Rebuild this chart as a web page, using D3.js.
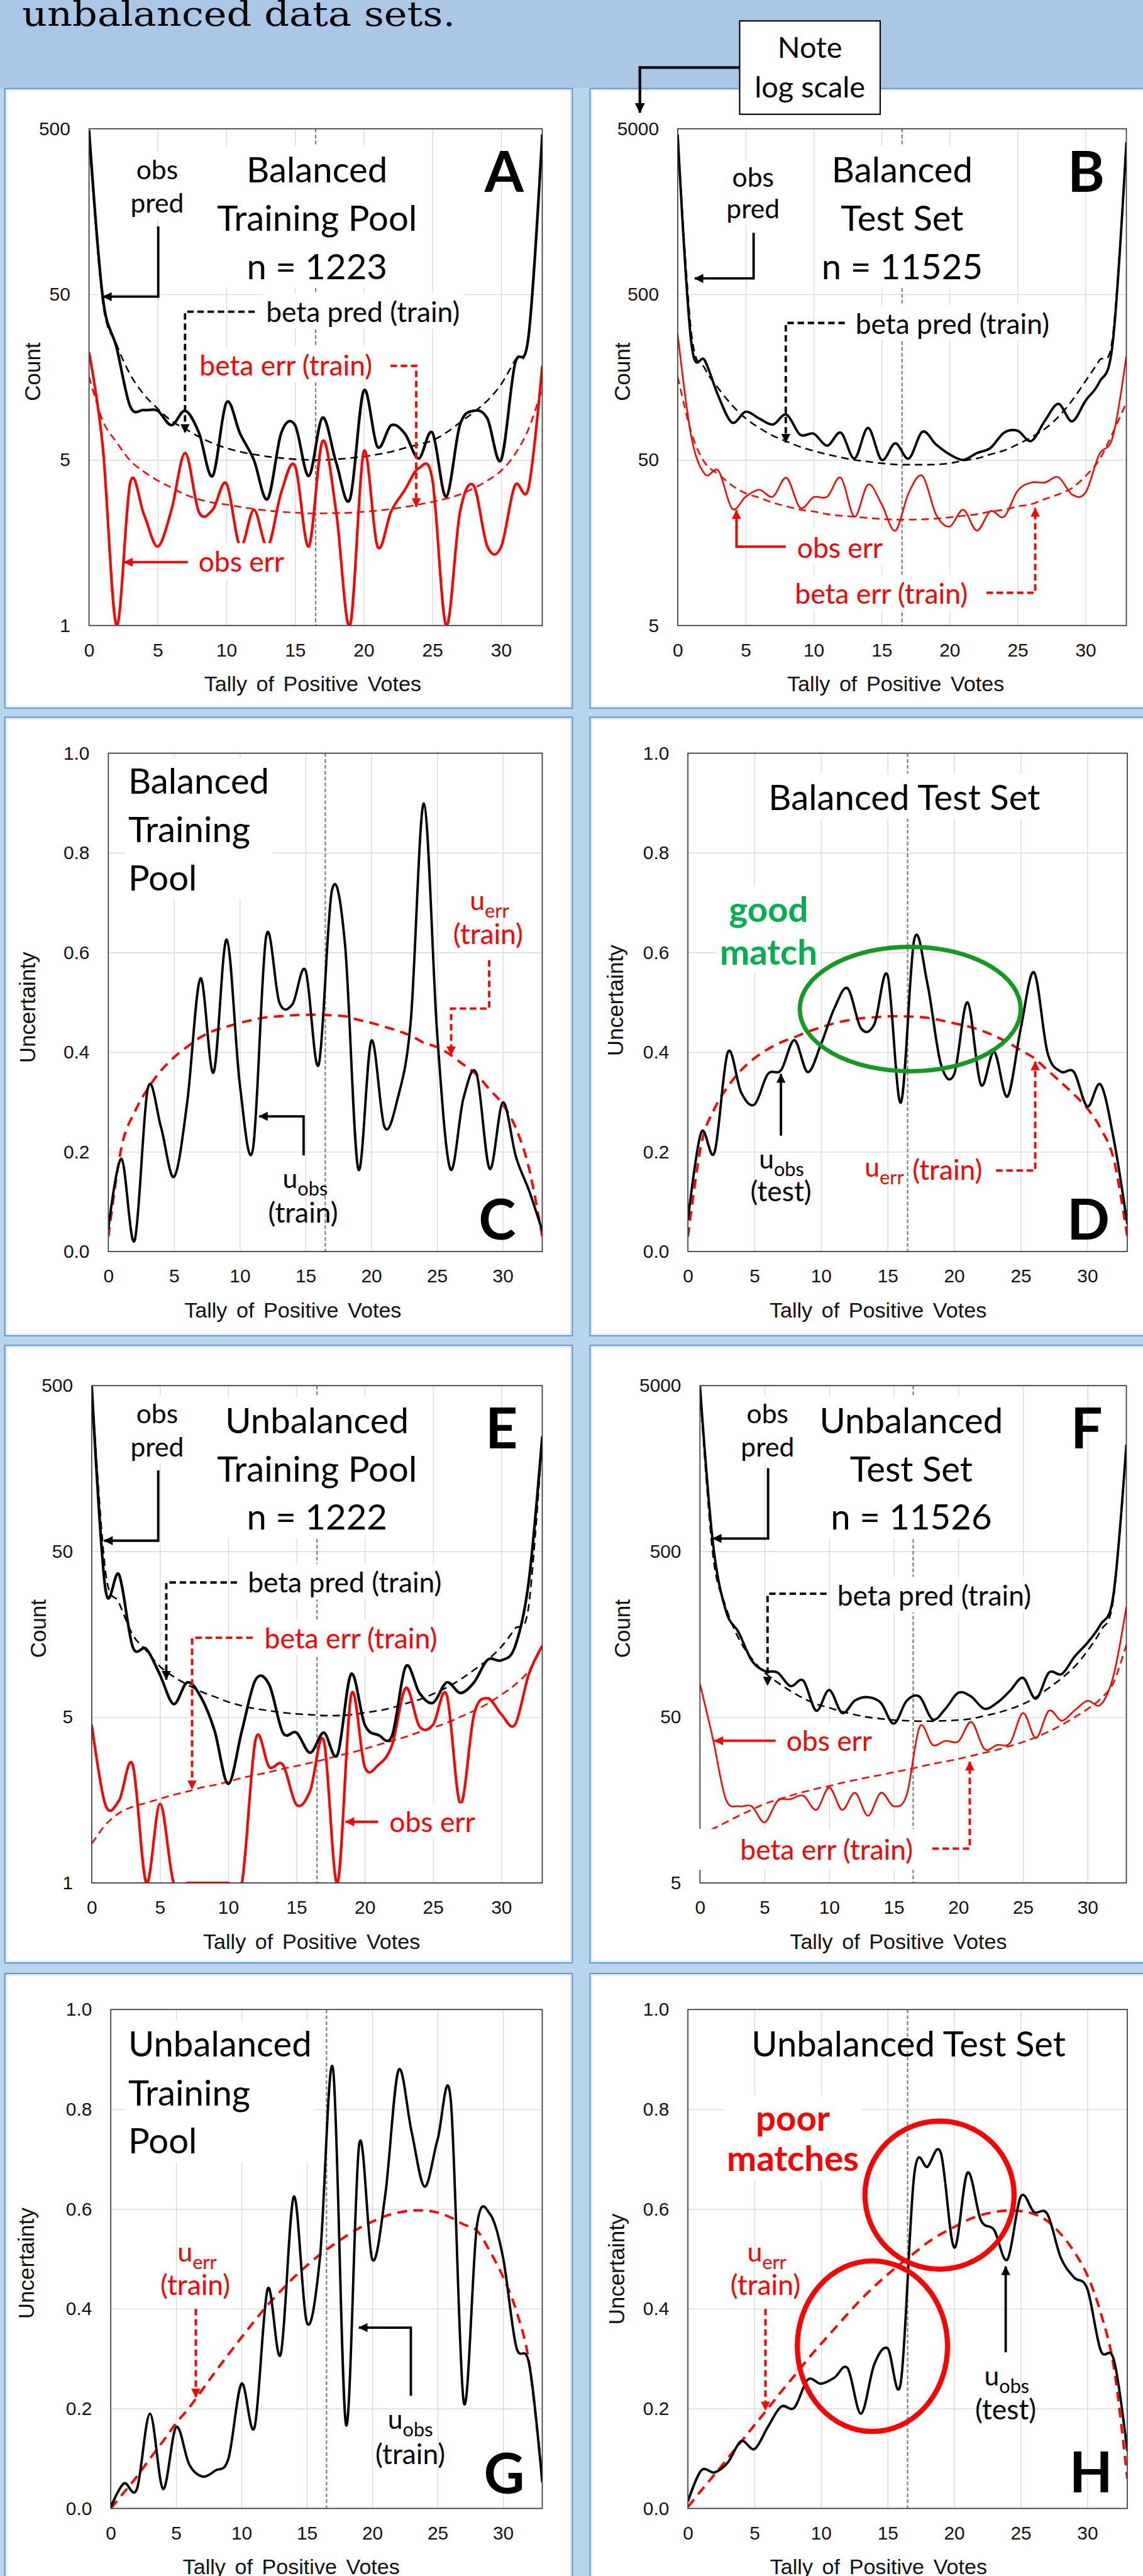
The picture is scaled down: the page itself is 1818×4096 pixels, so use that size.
<!DOCTYPE html>
<html lang="en">
<head>
<meta charset="utf-8">
<title>Balanced vs unbalanced data sets</title>
<style>
  html, body { margin: 0; padding: 0; background: #b9d4ed; }
  svg { display: block; }
</style>
</head>
<body>
<div id="chart"></div>
<script src="https://cdn.jsdelivr.net/npm/d3@7"></script>
<script>
// ---- data ----
var tally = [0,1,2,3,4,5,6,7,8,9,10,11,12,13,14,15,16,17,18,19,20,21,22,23,24,25,26,27,28,29,30,31,32,33];
var xTicks = [0, 5, 10, 15, 20, 25, 30];
var xGrid = [5, 10, 15, 20, 25, 30];
var midTally = 16.5;

var trainCountTicks = [0.5, 5, 50, 500];
var trainCountLabels = ["1", "5", "50", "500"];
var testCountTicks = [5, 50, 500, 5000];
var testCountLabels = ["5", "50", "500", "5000"];
var uncTicks = [0, 0.2, 0.4, 0.6, 0.8, 1.0];
var uncLabels = ["0.0", "0.2", "0.4", "0.6", "0.8", "1.0"];

// A: balanced training pool (counts)
var aObs      = [490, 48, 24, 10.5, 10, 9.9, 8.1, 9.9, 7.3, 4.0, 11.1, 7.2, 5.0, 2.9, 7.3, 8.1, 4.0, 9.0, 4.8, 2.9, 13.1, 6.0, 8.1, 7.2, 5.1, 7.3, 3.0, 8.1, 9.9, 8.9, 5.0, 18.8, 27.9, 462];
var aBetaPred = [450, 45, 25, 16.4, 12.4, 10.2, 8.6, 7.7, 6.9, 6.3, 5.9, 5.6, 5.4, 5.24, 5.13, 5.05, 5.0, 5.0, 5.05, 5.13, 5.24, 5.4, 5.6, 5.9, 6.2, 6.55, 7.3, 8.4, 9.7, 11.4, 14.3, 19.9, 27.9, 450];
var aObsErr   = [22.3, 6, 0.5, 3.65, 2.34, 1.5, 2.5, 5.5, 2.42, 2.5, 3.6, 1.5, 2.5, 1.5, 3.2, 4.6, 1.5, 6.5, 2.4, 0.5, 5.6, 1.5, 2.45, 3.3, 4.45, 3.8, 0.5, 2.4, 3.5, 1.5, 1.49, 3.5, 3.4, 18.5];
var aBetaErr  = [15.9, 8.6, 6.4, 4.95, 4.24, 3.75, 3.4, 3.09, 2.89, 2.76, 2.69, 2.6, 2.53, 2.47, 2.43, 2.4, 2.38, 2.38, 2.39, 2.4, 2.43, 2.47, 2.53, 2.6, 2.69, 2.79, 2.92, 3.09, 3.37, 3.75, 4.3, 5.4, 7.7, 13.5];

// B: balanced test set (counts)
var bObs      = [4620, 256, 199, 121, 84, 97.7, 88.9, 81.8, 94, 71, 72, 61, 73, 51, 78, 50, 63, 51, 74, 62, 54, 50, 55, 59, 73, 75, 65, 86, 109, 85.5, 114, 147, 256, 4140];
var bBetaPred = [4600, 294, 178, 135, 107, 89, 78, 70, 64.7, 60, 56.7, 54, 51.8, 50, 48.8, 47.7, 46.9, 46.8, 46.8, 46.9, 47.7, 49.5, 51, 54, 57, 62, 68.5, 77, 91, 114, 150, 199, 280, 4050];
var bObsErr   = [287, 69, 41, 43, 25.4, 30, 33, 30, 39, 25.7, 29.8, 30, 39, 22.7, 35.5, 27, 18.7, 31.8, 40, 23.4, 19.8, 25, 18.7, 24.5, 22.7, 32.6, 36.5, 36.5, 39.3, 30.9, 31.8, 54, 69, 212];
var bBetaErr  = [159, 73, 48, 41, 35, 31.4, 29.6, 27.6, 26.2, 25, 24.4, 23.5, 23, 22.7, 22.3, 22, 21.8, 21.8, 21.9, 22.1, 22.5, 23, 23.5, 24.4, 25, 26.2, 27, 29, 31, 33.8, 40, 50, 73, 111];

// C: balanced training pool (uncertainty)
var cObs = [0.046, 0.186, 0.022, 0.327, 0.25, 0.15, 0.3, 0.548, 0.359, 0.626, 0.335, 0.206, 0.632, 0.5, 0.496, 0.564, 0.375, 0.724, 0.616, 0.166, 0.423, 0.25, 0.307, 0.463, 0.899, 0.44, 0.166, 0.307, 0.357, 0.166, 0.299, 0.19, 0.122, 0.042];
var cErr = [0.03, 0.21, 0.28, 0.327, 0.363, 0.39, 0.411, 0.43, 0.443, 0.451, 0.459, 0.465, 0.47, 0.472, 0.474, 0.475, 0.475, 0.474, 0.472, 0.465, 0.459, 0.451, 0.443, 0.433, 0.419, 0.41, 0.395, 0.375, 0.355, 0.325, 0.295, 0.247, 0.166, 0.03];

// D: balanced test set (uncertainty)
var dObs = [0.063, 0.239, 0.199, 0.4, 0.319, 0.295, 0.356, 0.364, 0.424, 0.36, 0.416, 0.488, 0.528, 0.448, 0.456, 0.554, 0.299, 0.626, 0.536, 0.376, 0.356, 0.5, 0.335, 0.401, 0.311, 0.448, 0.56, 0.4, 0.361, 0.36, 0.291, 0.335, 0.223, 0.055];
var dErr = [0.03, 0.215, 0.287, 0.331, 0.364, 0.388, 0.406, 0.42, 0.43, 0.441, 0.45, 0.458, 0.464, 0.468, 0.47, 0.472, 0.472, 0.471, 0.469, 0.464, 0.458, 0.452, 0.444, 0.433, 0.42, 0.404, 0.388, 0.364, 0.34, 0.315, 0.287, 0.247, 0.183, 0.03];

// E: unbalanced training pool (counts)
var eObs      = [497, 29.8, 36.2, 13.3, 12.9, 9.0, 6.0, 8.1, 6.6, 4.14, 1.98, 4.14, 8.4, 7.85, 4.03, 4.03, 3.05, 4.03, 2.97, 9.1, 4.5, 3.9, 3.87, 10.1, 7.0, 6.1, 8.1, 7.0, 8.1, 11.1, 11, 13.3, 32.4, 247];
var eBetaPred = [497, 38.3, 24.5, 15.7, 12.6, 10.1, 8.77, 7.85, 7.14, 6.64, 6.18, 5.85, 5.62, 5.47, 5.32, 5.23, 5.17, 5.11, 5.11, 5.17, 5.32, 5.47, 5.7, 6.04, 6.38, 6.9, 7.55, 8.43, 9.64, 11.1, 13.3, 17.1, 23.2, 240];
var eObsErr   = [4.5, 1.48, 1.57, 2.58, 0.5, 1.5, 0.5, 0.5, 0.5, 0.5, 0.5, 0.5, 3.66, 2.5, 2.58, 1.48, 1.8, 3.6, 0.5, 6.8, 2.5, 2.58, 3.4, 7.5, 4.4, 4.5, 6.8, 1.5, 5.2, 6.5, 5.2, 4.5, 9.0, 13.5];
var eBetaErr  = [0.863, 1.12, 1.32, 1.44, 1.52, 1.61, 1.70, 1.78, 1.88, 1.95, 2.04, 2.15, 2.24, 2.33, 2.44, 2.54, 2.65, 2.77, 2.92, 3.05, 3.22, 3.41, 3.6, 3.81, 4.07, 4.32, 4.62, 5.02, 5.47, 6.04, 6.83, 7.85, 9.5, 13.3];

// F: unbalanced test set (counts)
var fObs      = [4970, 565, 220, 162, 110, 95, 93, 77, 83, 54.7, 73, 53, 63, 66, 61, 45.7, 62.8, 66.4, 48.4, 56.2, 70.2, 66.4, 56.2, 61.1, 72.1, 86.3, 64.6, 92.7, 91, 116, 141, 181, 274, 2207];
var fBetaPred = [4680, 478, 232, 149, 113, 93, 81, 72, 65, 60, 57, 54, 51.7, 50, 48.9, 48, 47.6, 47.3, 47.3, 47.6, 48, 48.9, 50.9, 53, 56, 60, 66, 75, 86, 101, 126, 166, 259, 2150];
var fObsErr   = [79.3, 37, 16, 14.5, 14.5, 11.6, 15.6, 16, 16.8, 13.8, 18.8, 13.8, 17.5, 12.7, 17.5, 14.5, 17, 43.8, 34, 36, 35.7, 46.8, 32.2, 34, 35, 53, 37.4, 54.7, 47.6, 55, 62.8, 59.4, 89, 232];
var fBetaErr  = [9.6, 10.6, 11.6, 12.7, 13.8, 15, 15.9, 16.8, 17.7, 18.5, 19.2, 20.1, 20.9, 21.7, 22.4, 23.3, 24.1, 25.1, 26.1, 27, 28, 29.2, 30.5, 31.8, 33.5, 35.4, 37.8, 41, 45, 50, 56, 64.6, 80.7, 137];

// G: unbalanced training pool (uncertainty)
var gObs = [0.003, 0.05, 0.039, 0.19, 0.039, 0.163, 0.088, 0.064, 0.076, 0.1, 0.25, 0.163, 0.44, 0.309, 0.625, 0.372, 0.503, 0.881, 0.167, 0.73, 0.499, 0.63, 0.878, 0.756, 0.645, 0.74, 0.819, 0.212, 0.566, 0.59, 0.503, 0.325, 0.289, 0.052];
var gErr = [0, 0.032, 0.064, 0.1, 0.135, 0.171, 0.202, 0.238, 0.274, 0.309, 0.343, 0.376, 0.408, 0.436, 0.463, 0.487, 0.509, 0.528, 0.546, 0.562, 0.575, 0.586, 0.593, 0.597, 0.597, 0.593, 0.583, 0.569, 0.557, 0.515, 0.464, 0.397, 0.291, 0.06];

// H: unbalanced test set (uncertainty)
var hObs = [0.014, 0.076, 0.072, 0.092, 0.135, 0.119, 0.163, 0.204, 0.202, 0.258, 0.25, 0.262, 0.281, 0.19, 0.289, 0.321, 0.254, 0.669, 0.685, 0.712, 0.523, 0.673, 0.578, 0.558, 0.499, 0.625, 0.594, 0.59, 0.503, 0.463, 0.44, 0.317, 0.297, 0.115];
var hErr = [0.003, 0.036, 0.068, 0.101, 0.134, 0.167, 0.2, 0.234, 0.266, 0.299, 0.33, 0.36, 0.39, 0.419, 0.445, 0.469, 0.491, 0.512, 0.533, 0.55, 0.564, 0.578, 0.588, 0.594, 0.597, 0.596, 0.59, 0.576, 0.55, 0.515, 0.467, 0.392, 0.281, 0.06];

// ---- styles ----
var RED = "#ff0000", BLACK = "#000000", GREEN = "#00b050", GREEN_RING = "#129a22";
var CAL = "Lato, 'Open Sans', sans-serif";
var ARIAL = "'Liberation Sans', Arial, sans-serif";
var SERIF = "'DejaVu Serif', 'Liberation Serif', serif";

function countSeries(obs, pred, err, perr, thin) {
  return [
    { v: perr, c: RED, w: 3, dash: "14,9" },
    { v: pred, c: BLACK, w: 3, dash: "14,9" },
    { v: err, c: RED, w: thin ? 3 : 4.8 },
    { v: obs, c: BLACK, w: thin ? 4.5 : 5 }
  ];
}
function uncSeries(obs, err) {
  return [
    { v: err, c: RED, w: 4.5, dash: "18,12" },
    { v: obs, c: BLACK, w: 4.5 }
  ];
}

var panels = [
  { id: "A", box: [9, 165, 1067, 1320], plot: [166, 1011, 240, 1166], log: true, dom: [0.5, 500],
    ticks: trainCountTicks, labels: trainCountLabels, series: countSeries(aObs, aBetaPred, aObsErr, aBetaErr, false),
    xTitleX: 583, yTitle: [61, 693, "Count"],
    notes: [
      { lines: [["Balanced", 340], ["Training Pool", 430], ["n = 1223", 521]], x: 591, anchor: "middle", size: 66, bg: true },
      { lines: [["A", 357]], x: 940, anchor: "middle", size: 105, weight: 700 },
      { lines: [["obs", 334], ["pred", 396]], x: 293, anchor: "middle", size: 50, bg: true },
      { lines: [["beta pred (train)", 600]], x: 496, size: 52, bg: true },
      { lines: [["beta err (train)", 700]], x: 372, size: 52, fill: RED, bg: true },
      { lines: [["obs err", 1066]], x: 370, size: 52, fill: RED, bg: true },
      { path: [[295, 422], [295, 553], [192, 553]], c: BLACK },
      { path: [[475, 581], [345, 581], [345, 807]], c: BLACK, dash: true },
      { path: [[728, 682], [776, 682], [776, 945]], c: RED, dash: true },
      { path: [[350, 1048], [231, 1048]], c: RED }
    ] },
  { id: "B", box: [1100, 165, 2145, 1320], plot: [1263.5, 2100, 240, 1166], log: true, dom: [5, 5000],
    ticks: testCountTicks, labels: testCountLabels, series: countSeries(bObs, bBetaPred, bObsErr, bBetaErr, true),
    xTitleX: 1670, yTitle: [1160, 693, "Count"],
    notes: [
      { lines: [["Balanced", 340], ["Test Set", 430], ["n = 11525", 521]], x: 1682, anchor: "middle", size: 66, bg: true },
      { lines: [["B", 357]], x: 2025, anchor: "middle", size: 105, weight: 700 },
      { lines: [["obs", 348], ["pred", 407]], x: 1404, anchor: "middle", size: 50, bg: true },
      { lines: [["beta pred (train)", 622]], x: 1595, size: 52, bg: true },
      { lines: [["obs err", 1040]], x: 1486, size: 52, fill: RED, bg: true },
      { lines: [["beta err (train)", 1125]], x: 1482, size: 52, fill: RED, bg: true },
      { path: [[1405, 434], [1405, 519], [1295, 519]], c: BLACK },
      { path: [[1575, 602], [1465, 602], [1465, 825]], c: BLACK, dash: true },
      { path: [[1465, 1019], [1373, 1019], [1373, 951]], c: RED },
      { path: [[1839, 1105], [1930, 1105], [1930, 947]], c: RED, dash: true }
    ] },
  { id: "C", box: [9, 1337, 1067, 2490], plot: [202, 1011, 1404, 2333], log: false, dom: [0, 1],
    ticks: uncTicks, labels: uncLabels, series: uncSeries(cObs, cErr),
    xTitleX: 546, yTitle: [51, 1878, "Uncertainty"],
    notes: [
      { lines: [["Balanced", 1480], ["Training", 1570], ["Pool", 1660]], x: 239, size: 66, bg: true },
      { lines: [["C", 2311]], x: 927, anchor: "middle", size: 105, weight: 700 },
      { u: "err", x: 876, y: 1697, fill: RED },
      { lines: [["(train)", 1760]], x: 910, anchor: "middle", size: 52, fill: RED },
      { u: "obs", x: 527, y: 2215, fill: BLACK },
      { lines: [["(train)", 2279]], x: 565, anchor: "middle", size: 52 },
      { path: [[912, 1790], [912, 1880], [841, 1880], [841, 1967]], c: RED, dash: true },
      { path: [[566, 2154], [566, 2081], [483, 2081]], c: BLACK }
    ] },
  { id: "D", box: [1100, 1337, 2145, 2490], plot: [1282.5, 2101.7, 1404, 2333], log: false, dom: [0, 1],
    ticks: uncTicks, labels: uncLabels, series: uncSeries(dObs, dErr),
    xTitleX: 1637, yTitle: [1147, 1865, "Uncertainty"],
    notes: [
      { lines: [["Balanced Test Set", 1510]], x: 1686, anchor: "middle", size: 66, bg: true },
      { lines: [["good", 1719], ["match", 1798]], x: 1433, anchor: "middle", size: 66, weight: 700, fill: GREEN, bg: true },
      { ellipse: [1697, 1881, 206, 116], c: GREEN_RING, w: 8 },
      { lines: [["D", 2311]], x: 2029, anchor: "middle", size: 105, weight: 700 },
      { u: "obs", x: 1415, y: 2178, fill: BLACK },
      { lines: [["(test)", 2239]], x: 1456, anchor: "middle", size: 52 },
      { u: "err", x: 1612, y: 2193, fill: RED },
      { lines: [["(train)", 2199]], x: 1701, size: 52, fill: RED },
      { path: [[1456, 2117], [1456, 2002]], c: BLACK },
      { path: [[1857, 2182], [1930, 2182], [1930, 1979]], c: RED, dash: true }
    ] },
  { id: "E", box: [9, 2508, 1067, 3659], plot: [171, 1011, 2583, 3510], log: true, dom: [0.5, 500],
    ticks: trainCountTicks, labels: trainCountLabels, series: countSeries(eObs, eBetaPred, eObsErr, eBetaErr, false),
    xTitleX: 581, yTitle: [71, 3036, "Count"],
    notes: [
      { lines: [["Unbalanced", 2672], ["Training Pool", 2762], ["n = 1222", 2851]], x: 591, anchor: "middle", size: 66, bg: true },
      { lines: [["E", 2700]], x: 935, anchor: "middle", size: 105, weight: 700 },
      { lines: [["obs", 2653], ["pred", 2715]], x: 293, anchor: "middle", size: 50, bg: true },
      { lines: [["beta pred (train)", 2969]], x: 462, size: 52, bg: true },
      { lines: [["beta err (train)", 3073]], x: 493, size: 52, fill: RED, bg: true },
      { lines: [["obs err", 3415]], x: 726, size: 52, fill: RED, bg: true },
      { path: [[295, 2741], [295, 2872], [194, 2872]], c: BLACK },
      { path: [[442, 2950], [310, 2950], [310, 3131]], c: BLACK, dash: true },
      { path: [[471, 3053], [358, 3053], [358, 3335]], c: RED, dash: true },
      { path: [[705, 3396], [644, 3396]], c: RED }
    ] },
  { id: "F", box: [1100, 2508, 2145, 3659], plot: [1305, 2100, 2583, 3510], log: true, dom: [5, 5000],
    ticks: testCountTicks, labels: testCountLabels, series: countSeries(fObs, fBetaPred, fObsErr, fBetaErr, true),
    xTitleX: 1675, yTitle: [1160, 3036, "Count"],
    notes: [
      { lines: [["Unbalanced", 2672], ["Test Set", 2762], ["n = 11526", 2851]], x: 1699, anchor: "middle", size: 66, bg: true },
      { lines: [["F", 2700]], x: 2026, anchor: "middle", size: 105, weight: 700 },
      { lines: [["obs", 2653], ["pred", 2715]], x: 1431, anchor: "middle", size: 50, bg: true },
      { lines: [["beta pred (train)", 2993]], x: 1561, size: 52, bg: true },
      { lines: [["obs err", 3264]], x: 1466, size: 52, fill: RED, bg: true },
      { lines: [["beta err (train)", 3467]], x: 1380, size: 52, fill: RED, bg: true, pad: [80, 6, 8, 8] },
      { path: [[1432, 2737], [1432, 2868], [1329, 2868]], c: BLACK },
      { path: [[1541, 2971], [1431, 2971], [1431, 3142]], c: BLACK, dash: true },
      { path: [[1446, 3245], [1332, 3245]], c: RED },
      { path: [[1738, 3446], [1808, 3446], [1808, 3284]], c: RED, dash: true }
    ] },
  { id: "G", box: [9, 3679, 1067, 4850], plot: [206.5, 1011, 3746, 4676], log: false, dom: [0, 1],
    ticks: uncTicks, labels: uncLabels, series: uncSeries(gObs, gErr),
    xTitleX: 543, yTitle: [49, 4219, "Uncertainty"],
    notes: [
      { lines: [["Unbalanced", 3834], ["Training", 3925], ["Pool", 4014]], x: 239, size: 66, bg: true },
      { lines: [["G", 4649]], x: 940, anchor: "middle", size: 105, weight: 700 },
      { u: "err", x: 331, y: 4216, fill: RED },
      { lines: [["(train)", 4278]], x: 364, anchor: "middle", size: 52, fill: RED },
      { u: "obs", x: 723, y: 4528, fill: BLACK },
      { lines: [["(train)", 4593]], x: 765, anchor: "middle", size: 52 },
      { path: [[365, 4304], [365, 4469]], c: RED, dash: true },
      { path: [[766, 4466], [766, 4339], [669, 4339]], c: BLACK }
    ] },
  { id: "H", box: [1100, 3679, 2145, 4850], plot: [1282.5, 2101.7, 3746, 4676], log: false, dom: [0, 1],
    ticks: uncTicks, labels: uncLabels, series: uncSeries(hObs, hErr),
    xTitleX: 1638, yTitle: [1150, 4230, "Uncertainty"],
    notes: [
      { lines: [["Unbalanced Test Set", 3834]], x: 1694, anchor: "middle", size: 66 },
      { lines: [["poor", 3972], ["matches", 4047]], x: 1478, anchor: "middle", size: 66, weight: 700, fill: RED, bg: true },
      { ellipse: [1751.6, 4092, 139, 138], c: RED, w: 9.5 },
      { ellipse: [1626.5, 4373.7, 140, 159], c: RED, w: 9.5 },
      { u: "err", x: 1393, y: 4216, fill: RED },
      { lines: [["(train)", 4278]], x: 1427, anchor: "middle", size: 52, fill: RED },
      { u: "obs", x: 1835, y: 4447, fill: BLACK },
      { lines: [["(test)", 4510]], x: 1875, anchor: "middle", size: 52 },
      { lines: [["H", 4646]], x: 2034, anchor: "middle", size: 105, weight: 700 },
      { path: [[1427, 4304], [1427, 4493]], c: RED, dash: true },
      { path: [[1875, 4385], [1875, 4225]], c: BLACK }
    ] }
];

// ---- drawing ----
var svg = d3.select("#chart").append("svg")
    .attr("width", 1818)
    .attr("height", 4096)
    .attr("viewBox", "0 0 2131 4802")
    .attr("preserveAspectRatio", "none");

var defs = svg.append("defs");
function marker(id, color, size) {
  defs.append("marker")
      .attr("id", id)
      .attr("viewBox", "0 0 10 10")
      .attr("refX", 9.5).attr("refY", 5)
      .attr("markerWidth", size).attr("markerHeight", size * 0.85)
      .attr("markerUnits", "userSpaceOnUse")
      .attr("orient", "auto")
    .append("path")
      .attr("d", "M0,0L10,5L0,10z")
      .attr("fill", color);
}
marker("arrow-black", BLACK, 20);
marker("arrow-red", RED, 20);
marker("arrow-note", BLACK, 22);

svg.append("rect").attr("width", 2131).attr("height", 4802).attr("fill", "#b9d4ed");
svg.append("rect").attr("width", 2131).attr("height", 164).attr("fill", "#abc7e7");

svg.append("text")
    .attr("x", 41).attr("y", 48)
    .attr("font-family", SERIF).attr("font-size", 64)
    .attr("textLength", 808).attr("lengthAdjust", "spacingAndGlyphs")
    .attr("fill", "#000")
    .text("unbalanced data sets.");

var curve = d3.curveCatmullRom.alpha(0);

panels.forEach(function(p) {
  var g = svg.append("g");
  var x0 = p.plot[0], x1 = p.plot[1], y0 = p.plot[2], y1 = p.plot[3];

  g.append("rect")
      .attr("x", p.box[0]).attr("y", p.box[1])
      .attr("width", p.box[2] - p.box[0]).attr("height", p.box[3] - p.box[1])
      .attr("fill", "#fff").attr("stroke", "#5b9bd5").attr("stroke-width", 2.5);
  g.append("rect")
      .attr("x", p.box[0] + 3).attr("y", p.box[1] + 3)
      .attr("width", p.box[2] - p.box[0] - 6).attr("height", p.box[3] - p.box[1] - 6)
      .attr("fill", "none").attr("stroke", "#e3e3e3").attr("stroke-width", 2);

  var x = d3.scaleLinear().domain([0, 33]).range([x0, x1]);
  var y = (p.log ? d3.scaleLog() : d3.scaleLinear()).domain(p.dom).range([y1, y0]);

  // gridlines
  g.append("g")
      .attr("transform", "translate(0," + y1 + ")")
      .call(d3.axisBottom(x).tickValues(xGrid).tickSize(-(y1 - y0)).tickFormat(""))
      .call(function(s) { s.select(".domain").remove(); })
      .selectAll("line").attr("stroke", "#d9d9d9").attr("stroke-width", 1.6);
  g.append("g")
      .attr("transform", "translate(" + x0 + ",0)")
      .call(d3.axisLeft(y).tickValues(p.ticks).tickSize(-(x1 - x0)).tickFormat(""))
      .call(function(s) { s.select(".domain").remove(); })
      .selectAll("line").attr("stroke", "#d9d9d9").attr("stroke-width", 1.6);

  // midpoint marker
  g.append("line")
      .attr("x1", x(midTally)).attr("x2", x(midTally))
      .attr("y1", y0).attr("y2", y1)
      .attr("stroke", "#7f7f7f").attr("stroke-width", 2.6)
      .attr("stroke-dasharray", "7,4");

  // series
  defs.append("clipPath").attr("id", "clip" + p.id)
    .append("rect").attr("x", x0).attr("y", y0).attr("width", x1 - x0).attr("height", y1 - y0);
  var line = d3.line()
      .x(function(d, i) { return x(tally[i]); })
      .y(function(d) { return y(d); })
      .curve(curve);
  p.series.forEach(function(s) {
    g.append("path")
        .attr("clip-path", "url(#clip" + p.id + ")")
        .attr("d", line(s.v))
        .attr("fill", "none")
        .attr("stroke", s.c)
        .attr("stroke-width", s.w)
        .attr("stroke-dasharray", s.dash || null)
        .attr("stroke-linejoin", "round");
  });

  // plot border
  g.append("rect")
      .attr("x", x0).attr("y", y0).attr("width", x1 - x0).attr("height", y1 - y0)
      .attr("fill", "none").attr("stroke", "#3a3a3a").attr("stroke-width", 2);

  // tick labels
  g.append("g")
      .attr("transform", "translate(0," + y1 + ")")
      .call(d3.axisBottom(x).tickValues(xTicks).tickSize(0).tickPadding(33))
      .call(function(s) { s.select(".domain").remove(); })
      .selectAll("text")
      .attr("font-family", ARIAL).attr("font-size", 35).attr("fill", "#111");
  g.append("g")
      .attr("transform", "translate(" + x0 + ",0)")
      .call(d3.axisLeft(y).tickValues(p.ticks).tickSize(0).tickPadding(35)
        .tickFormat(function(d, i) { return p.labels[i]; }))
      .call(function(s) { s.select(".domain").remove(); })
      .selectAll("text")
      .attr("font-family", ARIAL).attr("font-size", 35).attr("fill", "#111");

  // axis titles
  g.append("text")
      .attr("x", p.xTitleX).attr("y", y1 + 123)
      .attr("text-anchor", "middle")
      .attr("font-family", ARIAL).attr("font-size", 40).attr("fill", "#111")
      .attr("word-spacing", 6)
      .text("Tally of Positive Votes");
  g.append("text")
      .attr("transform", "translate(" + p.yTitle[0] + "," + p.yTitle[1] + ") rotate(-90)")
      .attr("dy", "0.35em")
      .attr("text-anchor", "middle")
      .attr("font-family", ARIAL).attr("font-size", 41).attr("fill", "#111")
      .text(p.yTitle[2]);

  // annotations
  var layer = g.append("g");
  p.notes.forEach(function(n) {
    if (n.lines) {
      var tg = layer.append("g");
      n.lines.forEach(function(l) {
        tg.append("text")
            .attr("x", n.x).attr("y", l[1])
            .attr("text-anchor", n.anchor || "start")
            .attr("font-family", CAL)
            .attr("font-size", n.size)
            .attr("font-weight", n.weight || 400)
            .attr("fill", n.fill || BLACK)
            .text(l[0]);
      });
      if (n.bg) {
        var b = tg.node().getBBox(), pad = n.pad || [6, 2, 6, 2];
        tg.insert("rect", "text")
            .attr("x", b.x - pad[0]).attr("y", b.y - pad[1])
            .attr("width", b.width + pad[0] + pad[2]).attr("height", b.height + pad[1] + pad[3])
            .attr("fill", "#fff");
      }
    } else if (n.u) {
      var t = layer.append("text")
          .attr("x", n.x).attr("y", n.y)
          .attr("font-family", CAL).attr("fill", n.fill);
      t.append("tspan").attr("font-size", 50).text("u");
      t.append("tspan").attr("font-size", 36).attr("dy", 14).text(n.u);
    }
  });
  p.notes.forEach(function(n) {
    if (n.ellipse) {
      layer.append("ellipse")
          .attr("cx", n.ellipse[0]).attr("cy", n.ellipse[1])
          .attr("rx", n.ellipse[2]).attr("ry", n.ellipse[3])
          .attr("fill", "none").attr("stroke", n.c).attr("stroke-width", n.w);
    } else if (n.path) {
      layer.append("path")
          .attr("d", d3.line()(n.path))
          .attr("fill", "none")
          .attr("stroke", n.c)
          .attr("stroke-width", 4.5)
          .attr("stroke-dasharray", n.dash ? "12,7" : null)
          .attr("marker-end", n.c === RED ? "url(#arrow-red)" : "url(#arrow-black)");
    }
  });
});

// "Note log scale" callout
svg.append("path")
    .attr("d", d3.line()([[1379, 126], [1193, 126], [1193, 210]]))
    .attr("fill", "none").attr("stroke", BLACK).attr("stroke-width", 5)
    .attr("marker-end", "url(#arrow-note)");
svg.append("rect")
    .attr("x", 1379).attr("y", 39).attr("width", 262).attr("height", 174)
    .attr("fill", "#fff").attr("stroke", BLACK).attr("stroke-width", 2.5);
svg.append("text")
    .attr("x", 1510).attr("y", 108).attr("text-anchor", "middle")
    .attr("font-family", CAL).attr("font-size", 55).text("Note");
svg.append("text")
    .attr("x", 1510).attr("y", 182).attr("text-anchor", "middle")
    .attr("font-family", CAL).attr("font-size", 55).text("log scale");
</script>
</body>
</html>
